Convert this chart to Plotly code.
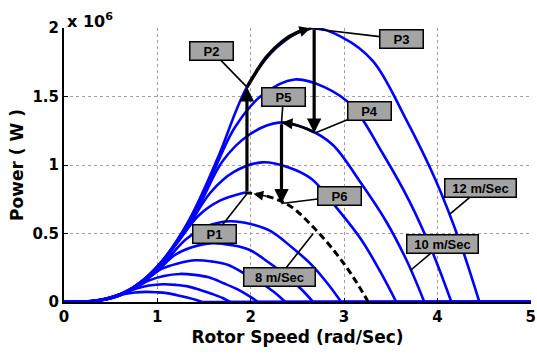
import plotly.graph_objects as go

# ---- data: rotor speed (rad/s) and power (x 10^6 W) ----
c1_x = [0, 0.61, 1.00, 1.325, 1.64, 1.96, 2.28, 2.65, 2.99, 3.31, 3.66, 3.975, 4.24, 4.45]
c1_y = [0, 0.05, 0.26, 0.58, 1.04, 1.57, 1.86, 2.0, 1.93, 1.76, 1.34, 0.90, 0.44, 0]
c2_x = [0, 0.57, 0.93, 1.235, 1.53, 1.83, 2.12, 2.47, 2.79, 3.09, 3.41, 3.705, 3.95, 4.15]
c2_y = [0, 0.04, 0.21, 0.47, 0.845, 1.275, 1.51, 1.625, 1.57, 1.43, 1.09, 0.73, 0.36, 0]
c3_x = [0, 0.53, 0.87, 1.15, 1.43, 1.70, 1.98, 2.30, 2.60, 2.875, 3.17, 3.45, 3.68, 3.86]
c3_y = [0, 0.033, 0.17, 0.38, 0.68, 1.03, 1.22, 1.31, 1.265, 1.15, 0.88, 0.59, 0.29, 0]
c4_x = [0, 0.49, 0.80, 1.06, 1.31, 1.57, 1.82, 2.12, 2.40, 2.65, 2.93, 3.18, 3.39, 3.56]
c4_y = [0, 0.026, 0.13, 0.30, 0.53, 0.80, 0.95, 1.02, 0.985, 0.90, 0.68, 0.46, 0.22, 0]
c5_x = [0, 0.45, 0.73, 0.97, 1.20, 1.44, 1.67, 1.94]
c5_y = [0, 0.02, 0.104, 0.23, 0.42, 0.63, 0.74, 0.80]
c5_dash_x = [1.94, 2.19, 2.425, 2.68, 2.91, 3.10, 3.26]
c5_dash_y = [0.80, 0.77, 0.70, 0.54, 0.36, 0.18, 0]
c6_x = [0, 0.41, 0.67, 0.885, 1.10, 1.31, 1.52, 1.77, 2.00, 2.21, 2.44, 2.655, 2.83, 2.97]
c6_y = [0, 0.015, 0.077, 0.17, 0.31, 0.46, 0.55, 0.59, 0.57, 0.52, 0.40, 0.27, 0.13, 0]
c7_x = [0, 0.37, 0.60, 0.795, 0.99, 1.18, 1.37, 1.59, 1.80, 1.99, 2.19, 2.385, 2.54, 2.67]
c7_y = [0, 0.011, 0.056, 0.125, 0.22, 0.34, 0.40, 0.43, 0.415, 0.38, 0.29, 0.19, 0.095, 0]
c8_x = [0, 0.32, 0.53, 0.705, 0.87, 1.04, 1.21, 1.41, 1.59, 1.76, 1.95, 2.115, 2.26, 2.37]
c8_y = [0, 0.008, 0.04, 0.088, 0.16, 0.24, 0.28, 0.305, 0.295, 0.27, 0.20, 0.137, 0.067, 0]
c9_x = [0, 0.285, 0.47, 0.62, 0.77, 0.92, 1.07, 1.24, 1.40, 1.55, 1.71, 1.86, 1.98, 2.08]
c9_y = [0, 0.005, 0.027, 0.06, 0.107, 0.16, 0.19, 0.205, 0.198, 0.18, 0.137, 0.092, 0.045, 0]
c10_x = [0, 0.245, 0.40, 0.53, 0.66, 0.785, 0.91, 1.06, 1.20, 1.325, 1.46, 1.59, 1.70, 1.78]
c10_y = [0, 0.003, 0.017, 0.038, 0.068, 0.10, 0.12, 0.13, 0.125, 0.114, 0.087, 0.058, 0.029, 0]
c11_x = [0, 0.20, 0.33, 0.44, 0.545, 0.65, 0.76, 0.88, 0.995, 1.10, 1.21, 1.32, 1.41, 1.48]
c11_y = [0, 0.002, 0.0096, 0.021, 0.038, 0.058, 0.069, 0.074, 0.071, 0.065, 0.05, 0.033, 0.016, 0]

# black tracking paths
p2p3_x = [1.96, 2.17, 2.35, 2.50, 2.64]
p2p3_y = [1.57, 1.79, 1.91, 1.97, 2.0]
p4p5_x = [2.68, 2.60, 2.50, 2.40, 2.33]
p4p5_y = [1.24, 1.265, 1.29, 1.305, 1.31]

# operating points
pt_names = ["P1", "P2", "P3", "P4", "P5", "P6"]
pt_x = [1.97, 1.96, 2.62, 2.69, 2.33, 2.33]
pt_y = [0.80, 1.57, 2.0, 1.235, 1.31, 0.72]

# wind speed labels: pointer target on curves
ws_text = ["8 m/Sec", "10 m/Sec", "12 m/Sec"]
ws_x = [2.67, 3.71, 4.13]
ws_y = [0.50, 0.23, 0.64]

x_ticks = [0, 1, 2, 3, 4, 5]
y_ticks = [0, 0.5, 1, 1.5, 2]
y_ticktext = ["0", "0.5", "1", "1.5", "2"]
x_max = 5

BLUE = "#0000ff"
fig = go.Figure()

blue_curves = [(c1_x, c1_y), (c2_x, c2_y), (c3_x, c3_y), (c4_x, c4_y), (c5_x, c5_y),
               (c6_x, c6_y), (c7_x, c7_y), (c8_x, c8_y), (c9_x, c9_y), (c10_x, c10_y),
               (c11_x, c11_y)]
for cx, cy in blue_curves:
    fig.add_trace(go.Scatter(x=cx, y=cy, mode="lines", line=dict(color=BLUE, width=2.6, shape="spline"),
                             hoverinfo="skip"))
# flat tails along zero after each curve ends
for cx, cy in blue_curves:
    if cy[-1] == 0:
        fig.add_trace(go.Scatter(x=[cx[-1], x_max], y=[0, 0], mode="lines",
                                 line=dict(color=BLUE, width=2.6), hoverinfo="skip"))

fig.add_trace(go.Scatter(x=c5_dash_x, y=c5_dash_y, mode="lines",
                         line=dict(color="black", width=3, dash="7px,4px", shape="spline")))
fig.add_trace(go.Scatter(x=p2p3_x, y=p2p3_y, mode="lines",
                         line=dict(color="black", width=3.5, shape="spline")))
fig.add_trace(go.Scatter(x=p4p5_x, y=p4p5_y, mode="lines",
                         line=dict(color="black", width=2.6, shape="spline")))

ann = []
def arrow(hx, hy, tx, ty, w=3.2, size=0.9):
    ann.append(dict(x=hx, y=hy, ax=tx, ay=ty, xref="x", yref="y", axref="x", ayref="y",
                    showarrow=True, arrowhead=2, arrowsize=size, arrowwidth=w,
                    arrowcolor="black", text=""))

# vertical tracking arrows
arrow(pt_x[1], pt_y[1], pt_x[1], pt_y[0])          # P1 -> P2
arrow(pt_x[3] - 0.01, pt_y[3], pt_x[3] - 0.01, pt_y[2])  # P3 -> P4
arrow(pt_x[5], pt_y[5], pt_x[4], pt_y[4])          # P5 -> P6
# heads on curved paths
arrow(p2p3_x[-1], p2p3_y[-1], p2p3_x[-2], p2p3_y[-2], w=2, size=1.1)
arrow(p4p5_x[-1], p4p5_y[-1], p4p5_x[-2], p4p5_y[-2], w=2, size=1.1)
arrow(c5_dash_x[0] + 0.09, c5_dash_y[0] - 0.01, c5_dash_x[1], c5_dash_y[1], w=1.5, size=1.3)

label_style = dict(xref="x", yref="y", showarrow=True, arrowhead=0, arrowwidth=1.6,
                   arrowcolor="black", bgcolor="#a4a4a4", bordercolor="black",
                   borderwidth=1.5, borderpad=1,
                   font=dict(family="Liberation Sans", size=13, color="black", weight="bold"))
pt_offsets = [(-33, 42), (-35, -36), (93, 11), (54, -22), (2, -26), (58, -7)]
for name, x, y, (ox, oy) in zip(pt_names, pt_x, pt_y, pt_offsets):
    ann.append(dict(x=x, y=y, ax=ox, ay=oy, text=name, width=40, height=15, **label_style))
ws_offsets = [(-34, 43), (32, -27), (31, -26)]
for t, x, y, (ox, oy) in zip(ws_text, ws_x, ws_y, ws_offsets):
    ann.append(dict(x=x, y=y, ax=ox, ay=oy, text=t, width=68, height=15, **label_style))

ann.append(dict(x=0, y=1, xref="paper", yref="paper", xanchor="left", yanchor="bottom",
                xshift=1, yshift=-5, showarrow=False, text="x 10<sup>6</sup>",
                font=dict(family="DejaVu Sans", size=16, color="black", weight="bold")))

axis_font = dict(family="DejaVu Sans", size=15, color="black", weight="bold")
title_font = dict(family="DejaVu Sans", size=17, color="black", weight="bold")
fig.update_layout(
    width=537, height=356, margin=dict(l=64, r=6, t=28, b=54, autoexpand=False),
    paper_bgcolor="white", plot_bgcolor="white", showlegend=False,
    annotations=ann,
    xaxis=dict(range=[0, x_max * 1.0006], tickvals=x_ticks, ticks="inside", ticklen=4, tickcolor="black",
               showline=True, linecolor="black", linewidth=2, showgrid=True,
               gridcolor="#a0a0a0", griddash="dot", gridwidth=1, zeroline=False,
               tickfont=axis_font, ticklabeloverflow="allow", automargin=False,
               title=dict(text="Rotor Speed (rad/Sec)", font=title_font, standoff=6)),
    yaxis=dict(range=[0, 2.0015], tickvals=y_ticks, ticktext=y_ticktext, ticks="inside", ticklen=4,
               tickcolor="black", showline=True, linecolor="black", linewidth=2, showgrid=True,
               gridcolor="#a0a0a0", griddash="dot", gridwidth=1, zeroline=False,
               tickfont=axis_font, ticklabeloverflow="allow", automargin=False,
               title=dict(text="Power ( W )", font=title_font, standoff=4)),
)
fig.write_html("out.html")
